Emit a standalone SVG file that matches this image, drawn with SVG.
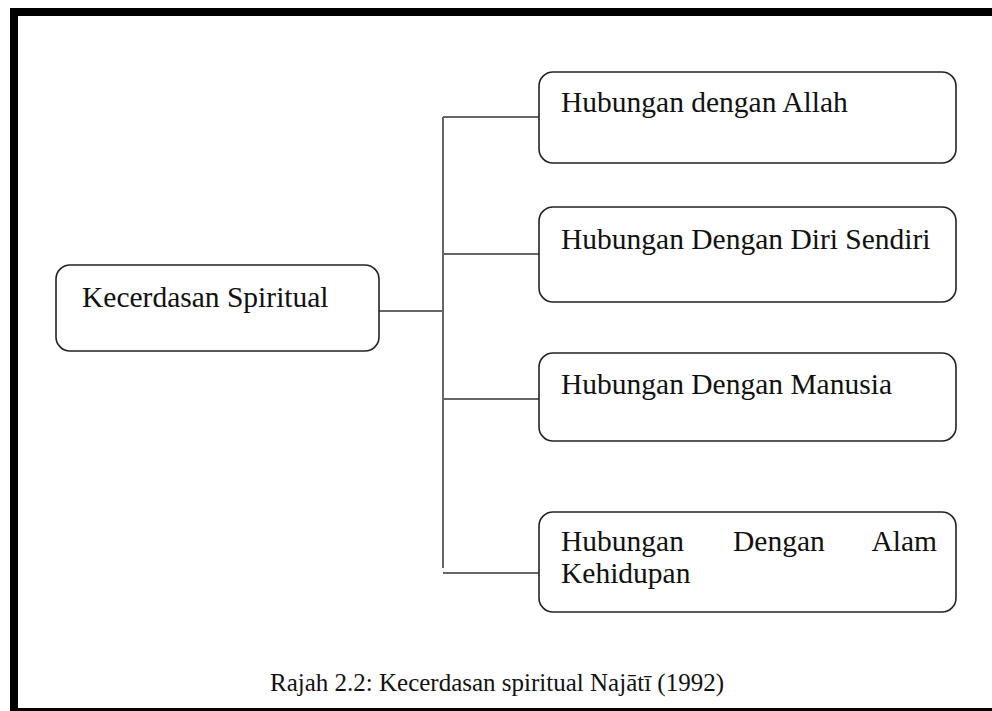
<svg xmlns="http://www.w3.org/2000/svg" width="992" height="711" viewBox="0 0 992 711">
<style>
.box{fill:#fff;stroke:#222;stroke-width:1.6}
.t{font-family:"Liberation Serif","Times New Roman",serif;font-size:29.5px;fill:#111}
.cap{font-family:"Liberation Serif","Times New Roman",serif;font-size:25px;fill:#111}
.c{fill:none;stroke:#666;stroke-width:2}
</style>
<rect width="992" height="711" fill="#fff"/>
<rect x="10" y="8" width="982" height="8" fill="#000"/>
<rect x="10" y="8" width="8" height="703" fill="#000"/>
<rect x="18" y="708" width="974" height="3" fill="#000"/>
<g id="connectors">
<path class="c" d="M379 311H443M443 117V568M443 117H539M443 254H539M443 399H539M443 573H539"/>
</g>
<g id="n0"><rect class="box" x="56" y="265" width="323" height="86" rx="14"/><text class="t" x="82" y="307">Kecerdasan Spiritual</text></g>
<g id="n1"><rect class="box" x="539" y="72" width="417" height="91" rx="14"/><text class="t" x="561" y="112">Hubungan dengan Allah</text></g>
<g id="n2"><rect class="box" x="539" y="207" width="417" height="95" rx="14"/><text class="t" x="561" y="249">Hubungan Dengan Diri Sendiri</text></g>
<g id="n3"><rect class="box" x="539" y="353" width="417" height="88" rx="14"/><text class="t" x="561" y="394">Hubungan Dengan Manusia</text></g>
<g id="n4"><rect class="box" x="539" y="512" width="417" height="100" rx="14"/><text class="t" x="561" y="551">Hubungan</text><text class="t" x="733" y="551">Dengan</text><text class="t" x="937" y="551" text-anchor="end">Alam</text><text class="t" x="561" y="583">Kehidupan</text></g>
<text class="cap" x="270" y="691">Rajah 2.2: Kecerdasan spiritual Najātī (1992)</text>
</svg>
